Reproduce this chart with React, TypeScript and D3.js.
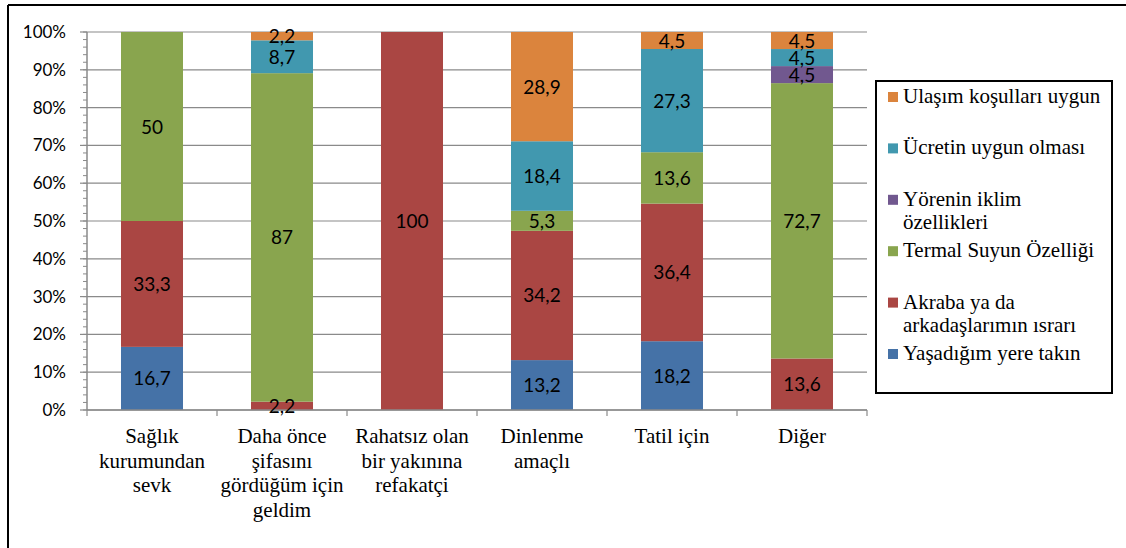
import React, { useEffect, useRef } from "react";
import * as d3 from "d3";

const categories: string[][] = [
  ["Sağlık", "kurumundan", "sevk"],
  ["Daha önce", "şifasını", "gördüğüm için", "geldim"],
  ["Rahatsız olan", "bir yakınına", "refakatçi"],
  ["Dinlenme", "amaçlı"],
  ["Tatil için"],
  ["Diğer"],
];

const seriesNames = [
  "Yaşadığım yere takın",
  "Akraba ya da arkadaşlarımın ısrarı",
  "Termal Suyun Özelliği",
  "Yörenin iklim özellikleri",
  "Ücretin uygun olması",
  "Ulaşım koşulları uygun",
];

const yasadigim = [16.7, 0, 0, 13.2, 18.2, 0];
const akraba = [33.3, 2.2, 100, 34.2, 36.4, 13.6];
const termal = [50, 87, 0, 5.3, 13.6, 72.7];
const yorenin = [0, 0, 0, 0, 0, 4.5];
const ucret = [0, 8.7, 0, 18.4, 27.3, 4.5];
const ulasim = [0, 2.2, 0, 28.9, 4.5, 4.5];

const legendLines: string[][] = [
  ["Ulaşım koşulları uygun"],
  ["Ücretin uygun olması"],
  ["Yörenin iklim", "özellikleri"],
  ["Termal Suyun Özelliği"],
  ["Akraba ya da", "arkadaşlarımın ısrarı"],
  ["Yaşadığım yere takın"],
];

const yTicks = [0, 0.1, 0.2, 0.3, 0.4, 0.5, 0.6, 0.7, 0.8, 0.9, 1];

const colors = ["#4572A7", "#AA4643", "#89A54E", "#71588F", "#4198AF", "#DB843D"];
const legendColors = ["#DB843D", "#4198AF", "#71588F", "#89A54E", "#AA4643", "#4572A7"];

const W = 1126;
const H = 548;
const left = 87;
const right = 867;
const top = 32;
const bottom = 410;

export default function App() {
  const ref = useRef<SVGSVGElement | null>(null);

  useEffect(() => {
    const svg = d3.select(ref.current);
    svg.selectAll("*").remove();

    const allSeries = [yasadigim, akraba, termal, yorenin, ucret, ulasim];
    const rows = categories.map((_, i) => {
      const r: Record<string, number> = {};
      seriesNames.forEach((k, j) => (r[k] = allSeries[j][i]));
      return r;
    });
    const stacked = d3
      .stack<Record<string, number>>()
      .keys(seriesNames)
      .offset(d3.stackOffsetExpand)(rows);

    const catIds = categories.map((_, i) => String(i));
    const x = d3
      .scaleBand<string>()
      .domain(catIds)
      .range([left, right])
      .paddingInner(0.523)
      .paddingOuter(0.2615);
    const step = x.step();
    const y = d3.scaleLinear().domain([0, 1]).range([bottom, top]);

    svg.append("rect").attr("width", W).attr("height", H).attr("fill", "#fff");

    // gridlines
    svg
      .append("g")
      .selectAll("line")
      .data(yTicks)
      .join("line")
      .attr("x1", left)
      .attr("x2", right)
      .attr("y1", (d) => y(d))
      .attr("y2", (d) => y(d))
      .attr("stroke", "#8a8a8a")
      .attr("stroke-width", 1.2);

    // bars
    stacked.forEach((s, si) => {
      svg
        .append("g")
        .selectAll("rect")
        .data(s.map((d, ci) => ({ d, ci })).filter((o) => y(o.d[0]) - y(o.d[1]) > 0))
        .join("rect")
        .attr("x", (o) => x(String(o.ci)) as number)
        .attr("y", (o) => y(o.d[1]))
        .attr("width", x.bandwidth())
        .attr("height", (o) => y(o.d[0]) - y(o.d[1]))
        .attr("fill", colors[si]);
    });

    // axes lines
    svg.append("line").attr("x1", left).attr("x2", left).attr("y1", top).attr("y2", bottom).attr("stroke", "#8a8a8a").attr("stroke-width", 1.5);
    svg.append("line").attr("x1", left).attr("x2", right).attr("y1", bottom).attr("y2", bottom).attr("stroke", "#8a8a8a").attr("stroke-width", 1.5);

    // minor ticks
    svg
      .append("g")
      .selectAll("line")
      .data(d3.range(0, 1.0001, 0.02))
      .join("line")
      .attr("x1", left - 4)
      .attr("x2", left)
      .attr("y1", (d) => y(d))
      .attr("y2", (d) => y(d))
      .attr("stroke", "#8a8a8a")
      .attr("stroke-width", 1);
    // major ticks
    svg
      .append("g")
      .selectAll("line")
      .data(yTicks)
      .join("line")
      .attr("x1", left - 7)
      .attr("x2", left)
      .attr("y1", (d) => y(d))
      .attr("y2", (d) => y(d))
      .attr("stroke", "#8a8a8a")
      .attr("stroke-width", 1.2);
    // x ticks
    svg
      .append("g")
      .selectAll("line")
      .data(d3.range(categories.length + 1))
      .join("line")
      .attr("x1", (i) => left + i * step)
      .attr("x2", (i) => left + i * step)
      .attr("y1", bottom)
      .attr("y2", bottom + 6)
      .attr("stroke", "#8a8a8a")
      .attr("stroke-width", 1.2);

    // y labels
    svg
      .append("g")
      .selectAll("text")
      .data(yTicks)
      .join("text")
      .attr("x", left - 21)
      .attr("y", (d) => y(d) + 6)
      .attr("text-anchor", "end")
      .attr("font-family", "Lato")
      .attr("font-size", 17)
      .attr("fill", "#000")
      .text((d) => Math.round(d * 100) + "%");

    // data labels
    stacked.forEach((s, si) => {
      svg
        .append("g")
        .selectAll("text")
        .data(s.map((d, ci) => ({ d, ci, v: allSeries[si][ci] })).filter((o) => o.v))
        .join("text")
        .attr("x", (o) => (x(String(o.ci)) as number) + x.bandwidth() / 2)
        .attr("y", (o) => (y(o.d[0]) + y(o.d[1])) / 2 + 7)
        .attr("text-anchor", "middle")
        .attr("font-family", "Lato")
        .attr("font-size", 19)
        .attr("fill", "#000")
        .text((o) => String(o.v).replace(".", ","));
    });

    // category labels (serif)
    const catLines = categories.flatMap((lines, ci) => lines.map((ln, li) => ({ ln, li, ci })));
    svg
      .append("g")
      .selectAll("text")
      .data(catLines)
      .join("text")
      .attr("x", (o) => (x(String(o.ci)) as number) + x.bandwidth() / 2)
      .attr("y", (o) => 443 + o.li * 24.5)
      .attr("text-anchor", "middle")
      .attr("font-family", "Times New Roman")
      .attr("font-size", 21)
      .attr("fill", "#000")
      .text((o) => o.ln);

    // legend
    svg
      .append("rect")
      .attr("x", 876)
      .attr("y", 81)
      .attr("width", 236)
      .attr("height", 312)
      .attr("fill", "none")
      .attr("stroke", "#000")
      .attr("stroke-width", 2);
    legendLines.forEach((lines, i) => {
      const by = 103 + i * 51.4;
      svg
        .append("rect")
        .attr("x", 888)
        .attr("y", by - 11)
        .attr("width", 10)
        .attr("height", 10)
        .attr("fill", legendColors[i]);
      lines.forEach((ln, li) => {
        svg
          .append("text")
          .attr("x", 903)
          .attr("y", by + li * 23)
          .attr("font-family", "Times New Roman")
          .attr("font-size", 21)
          .attr("fill", "#000")
          .text(ln);
      });
    });

    // outer border (top and left visible)
    svg.append("line").attr("x1", 8).attr("x2", W).attr("y1", 5).attr("y2", 5).attr("stroke", "#000").attr("stroke-width", 2);
    svg.append("line").attr("x1", 8).attr("x2", 8).attr("y1", 5).attr("y2", H).attr("stroke", "#000").attr("stroke-width", 2);
  }, []);

  return (
    <svg
      ref={ref}
      width={W}
      height={H}
      style={{ position: "absolute", left: 0, top: 0 }}
    />
  );
}
